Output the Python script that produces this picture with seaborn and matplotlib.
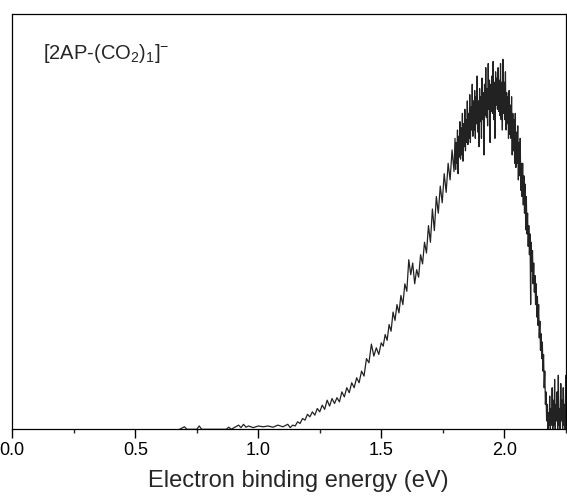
import numpy as np
import pandas as pd
import matplotlib
matplotlib.use("Agg")
import matplotlib.pyplot as plt
from matplotlib.ticker import MultipleLocator, AutoMinorLocator
import seaborn as sns

# -----------------------------
# DATA (intensity as fraction of the frame)
# -----------------------------

# flat baseline before onset
base_ebe = [0.68, 0.70, 0.71, 0.75, 0.76, 0.77, 0.87, 0.88, 0.89, 0.92, 0.93,
            0.94, 0.95, 0.96, 0.98, 1.00, 1.02, 1.04, 1.06, 1.08, 1.10, 1.12]
base_int = [0.0, 0.006, 0.0, 0.0, 0.008, 0.0, 0.0, 0.005, 0.0, 0.010, 0.004,
            0.012, 0.005, 0.008, 0.004, 0.008, 0.006, 0.008, 0.005, 0.010, 0.006, 0.012]

# slow rise
rise_ebe = [1.13, 1.14, 1.15, 1.16, 1.17, 1.18, 1.19, 1.20, 1.21, 1.22, 1.23,
            1.24, 1.25, 1.26, 1.27, 1.28, 1.29, 1.30, 1.31, 1.32, 1.33, 1.34,
            1.35, 1.36, 1.37, 1.38, 1.39, 1.40, 1.41, 1.42, 1.43, 1.44, 1.45,
            1.46, 1.47, 1.48, 1.49, 1.50]
rise_int = [0.004, 0.010, 0.008, 0.018, 0.014, 0.026, 0.022, 0.036, 0.030, 0.042, 0.034,
            0.050, 0.042, 0.058, 0.048, 0.070, 0.056, 0.074, 0.062, 0.076, 0.066, 0.090,
            0.078, 0.100, 0.088, 0.112, 0.100, 0.124, 0.112, 0.140, 0.128, 0.170, 0.160,
            0.205, 0.176, 0.196, 0.180, 0.208]

# steep rise
slope_ebe = [1.508, 1.516, 1.524, 1.532, 1.540, 1.548, 1.556, 1.564, 1.572, 1.580,
             1.588, 1.596, 1.604, 1.612, 1.620, 1.628, 1.636, 1.644, 1.652, 1.660,
             1.668, 1.676, 1.684, 1.692, 1.700, 1.708, 1.716, 1.724, 1.732, 1.740,
             1.748, 1.756, 1.764, 1.772, 1.780, 1.788, 1.796]
slope_int = [0.200, 0.228, 0.214, 0.252, 0.236, 0.282, 0.262, 0.300, 0.280, 0.322,
             0.300, 0.350, 0.332, 0.408, 0.372, 0.400, 0.350, 0.384, 0.366, 0.420,
             0.398, 0.450, 0.424, 0.490, 0.450, 0.530, 0.478, 0.560, 0.520, 0.585,
             0.545, 0.615, 0.570, 0.640, 0.600, 0.672, 0.620]

# peak and fall-off (dense, noisy channels)
peak_ebe = [
    1.8000, 1.8025, 1.8050, 1.8075, 1.8100, 1.8125, 1.8150, 1.8175, 1.8200, 1.8225,
    1.8250, 1.8275, 1.8300, 1.8325, 1.8350, 1.8375, 1.8400, 1.8425, 1.8450, 1.8475,
    1.8500, 1.8525, 1.8550, 1.8575, 1.8600, 1.8625, 1.8650, 1.8675, 1.8700, 1.8725,
    1.8750, 1.8775, 1.8800, 1.8825, 1.8850, 1.8875, 1.8900, 1.8925, 1.8950, 1.8975,
    1.9000, 1.9025, 1.9050, 1.9075, 1.9100, 1.9125, 1.9150, 1.9175, 1.9200, 1.9225,
    1.9250, 1.9275, 1.9300, 1.9325, 1.9350, 1.9375, 1.9400, 1.9425, 1.9450, 1.9475,
    1.9500, 1.9525, 1.9550, 1.9575, 1.9600, 1.9625, 1.9650, 1.9675, 1.9700, 1.9725,
    1.9750, 1.9775, 1.9800, 1.9825, 1.9850, 1.9875, 1.9900, 1.9925, 1.9950, 1.9975,
    2.0000, 2.0025, 2.0050, 2.0075, 2.0100, 2.0125, 2.0150, 2.0175, 2.0200, 2.0225,
    2.0250, 2.0275, 2.0300, 2.0325, 2.0350, 2.0375, 2.0400, 2.0425, 2.0450, 2.0475,
    2.0500, 2.0525, 2.0550, 2.0575, 2.0600, 2.0625, 2.0650, 2.0675, 2.0700, 2.0725,
    2.0750, 2.0775, 2.0800, 2.0825, 2.0850, 2.0875, 2.0900, 2.0925, 2.0950, 2.0975,
    2.1000, 2.1025, 2.1050, 2.1075, 2.1100, 2.1125, 2.1150, 2.1175, 2.1200, 2.1225,
    2.1250, 2.1275, 2.1300, 2.1325, 2.1350, 2.1375, 2.1400, 2.1425, 2.1450, 2.1475,
    2.1500, 2.1525, 2.1550, 2.1575, 2.1600, 2.1625, 2.1650, 2.1675, 2.1700, 2.1725,
    2.1750, 2.1775, 2.1800, 2.1825, 2.1850, 2.1875, 2.1900, 2.1925, 2.1950, 2.1975,
    2.2000]
peak_int = [
    0.700, 0.625, 0.690, 0.640, 0.720, 0.615, 0.705, 0.655, 0.740, 0.650,
    0.725, 0.660, 0.760, 0.645, 0.735, 0.680, 0.770, 0.670, 0.745, 0.690,
    0.790, 0.685, 0.760, 0.700, 0.805, 0.690, 0.775, 0.720, 0.830, 0.705,
    0.790, 0.720, 0.815, 0.700, 0.800, 0.735, 0.850, 0.715, 0.790, 0.680,
    0.820, 0.740, 0.800, 0.700, 0.845, 0.745, 0.810, 0.660, 0.830, 0.755,
    0.870, 0.750, 0.820, 0.730, 0.880, 0.770, 0.840, 0.690, 0.830, 0.765,
    0.850, 0.760, 0.885, 0.745, 0.835, 0.700, 0.860, 0.780, 0.845, 0.770,
    0.870, 0.765, 0.840, 0.755, 0.880, 0.745, 0.835, 0.720, 0.890, 0.760,
    0.835, 0.745, 0.860, 0.720, 0.810, 0.735, 0.800, 0.700, 0.815, 0.710,
    0.780, 0.700, 0.800, 0.660, 0.760, 0.670, 0.745, 0.640, 0.760, 0.630,
    0.715, 0.640, 0.730, 0.600, 0.690, 0.610, 0.700, 0.575, 0.640, 0.560,
    0.640, 0.540, 0.610, 0.520, 0.590, 0.480, 0.560, 0.470, 0.520, 0.440,
    0.490, 0.420, 0.470, 0.300, 0.450, 0.380, 0.430, 0.350, 0.400, 0.330,
    0.370, 0.300, 0.350, 0.270, 0.320, 0.250, 0.300, 0.220, 0.260, 0.190,
    0.230, 0.170, 0.210, 0.140, 0.180, 0.100, 0.140, 0.060, 0.090, 0.020,
    0.060, 0.000, 0.040, 0.010, 0.080, 0.000, 0.050, 0.010, 0.100, 0.000,
    0.070]

# noise tail
tail_ebe = [2.2025, 2.2050, 2.2075, 2.2100, 2.2125, 2.2150, 2.2175, 2.2200, 2.2225,
            2.2250, 2.2275, 2.2300, 2.2325, 2.2350, 2.2375, 2.2400, 2.2425, 2.2450,
            2.2475, 2.2500]
tail_int = [0.010, 0.120, 0.000, 0.060, 0.020, 0.090, 0.000, 0.130, 0.010,
            0.050, 0.000, 0.110, 0.020, 0.070, 0.000, 0.100, 0.010, 0.060,
            0.000, 0.130]

label_text = r"[2AP-(CO$_2$)$_1$]$^{-}$"

df = pd.DataFrame({
    "ebe": base_ebe + rise_ebe + slope_ebe + peak_ebe + tail_ebe,
    "intensity": base_int + rise_int + slope_int + peak_int + tail_int,
})

# -----------------------------
# PLOT
# -----------------------------

sns.set_theme(style="ticks")
plt.rcParams["font.family"] = ["Liberation Sans", "DejaVu Sans"]
plt.rcParams["mathtext.fontset"] = "custom"
plt.rcParams["mathtext.rm"] = "Liberation Sans"
plt.rcParams["mathtext.it"] = "Liberation Sans"

fig = plt.figure(figsize=(5.67, 4.96), dpi=100)
ax = fig.add_axes([0.0217, 0.1345, 0.976, 0.838])

sns.lineplot(data=df, x="ebe", y="intensity", sort=False, estimator=None,
             color="#222222", linewidth=0.9, ax=ax)

ax.set_xlim(0, 2.25)
ax.set_ylim(0, 1)
ax.set_yticks([])
ax.set_ylabel("")

ax.xaxis.set_major_locator(MultipleLocator(0.5))
ax.xaxis.set_minor_locator(AutoMinorLocator(2))
ax.tick_params(axis="x", which="major", direction="out", length=6.5, width=1,
               pad=3, labelsize=13, colors="black")
ax.tick_params(axis="x", which="minor", direction="out", length=3.2, width=1)

for sp in ax.spines.values():
    sp.set_visible(True)
    sp.set_linewidth(0.9)
    sp.set_color("black")

ax.set_xlabel("Electron binding energy (eV)", fontsize=17)
ax.xaxis.set_label_coords(0.516, -0.098)

ax.text(0.055, 0.905, label_text, transform=ax.transAxes, fontsize=14.5,
        ha="left", va="center")

plt.savefig("out.png", dpi=100)
